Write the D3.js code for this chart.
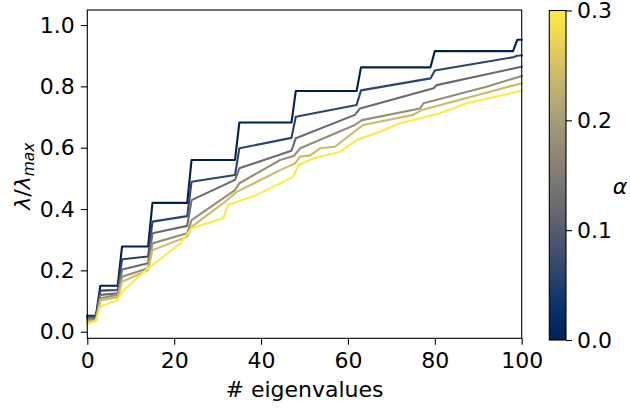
<!DOCTYPE html>
<html><head><meta charset="utf-8">
<script src="https://cdn.jsdelivr.net/npm/d3@7"></script>
<style>body{margin:0;background:#fff}text{font-family:"DejaVu Sans",sans-serif}</style>
</head><body><svg id="c" width="630" height="409"></svg>
<script>
// alpha values of each curve
const alphas = [0, 0.06, 0.12, 0.18, 0.24, 0.3];
// [eigenvalue index, lambda/lambda_max]
const seriesA0 = [[0,0.052],[2,0.052],[3,0.150],[7,0.150],[8,0.278],[14,0.278],[15,0.420],[23,0.420],[24,0.560],[34,0.560],[35,0.682],[47,0.682],[48,0.785],[62,0.785],[63,0.862],[79,0.862],[80,0.915],[98,0.915],[99,0.952],[100,0.952]];
const seriesA1 = [[0,0.049],[2,0.050],[3,0.134],[7,0.136],[8,0.236],[14,0.245],[15,0.359],[23,0.377],[24,0.489],[34,0.511],[35,0.598],[47,0.632],[48,0.701],[62,0.739],[63,0.787],[79,0.826],[80,0.852],[98,0.895],[99,0.900],[100,0.901]];
const seriesA2 = [[0,0.043],[2,0.045],[3,0.120],[7,0.125],[8,0.203],[14,0.223],[15,0.321],[23,0.345],[24,0.429],[34,0.495],[35,0.533],[47,0.590],[48,0.631],[61.6,0.707],[62.8,0.728],[79.7,0.794],[80.4,0.804],[100,0.864]];
const seriesA3 = [[0,0.038],[2,0.040],[3,0.109],[7,0.120],[8,0.179],[14,0.207],[15,0.288],[23,0.321],[24,0.364],[34,0.462],[35,0.484],[44.4,0.560],[47.5,0.573],[49,0.598],[61.6,0.674],[63.2,0.690],[76.6,0.728],[77.4,0.745],[91.9,0.799],[100,0.834]];
const seriesA4 = [[0,0.033],[2,0.036],[3,0.103],[7,0.112],[8,0.163],[14,0.201],[15,0.266],[23,0.310],[24,0.342],[31.3,0.419],[34.4,0.456],[44.4,0.527],[47.8,0.549],[49,0.571],[51.3,0.575],[53.6,0.598],[57,0.603],[62,0.658],[63.5,0.674],[75,0.707],[77,0.723],[100,0.810]];
const seriesA5 = [[0,0.025],[2,0.036],[3,0.082],[7,0.103],[8,0.130],[14,0.207],[15,0.217],[21.3,0.286],[24,0.337],[31.3,0.370],[32.4,0.413],[39,0.446],[47.4,0.505],[48.6,0.543],[52,0.565],[58.2,0.587],[62,0.625],[67.4,0.652],[72,0.680],[81.2,0.712],[87.3,0.745],[100,0.786]];
const allSeries = [seriesA0, seriesA1, seriesA2, seriesA3, seriesA4, seriesA5];
const xTicks = [0, 20, 40, 60, 80, 100];
const yTicks = [0.0, 0.2, 0.4, 0.6, 0.8, 1.0];
const cTicks = [0.0, 0.1, 0.2, 0.3];

const svg = d3.select("#c");
const L = 87.3, R = 521.7, T = 10, B = 338.3;
const x = d3.scaleLinear().domain([0, 100]).range([L, R]);
const y = d3.scaleLinear().domain([-0.0215, 1.049]).range([B, T]);
const cmap = d3.scaleSequential(d3.interpolateCividis).domain([0, 0.3]);

const line = d3.line().x(d => x(d[0])).y(d => y(d[1]));
svg.append("g").selectAll("path").data(allSeries).join("path")
  .attr("d", line).attr("fill", "none")
  .attr("stroke", (d, i) => cmap(alphas[i]))
  .attr("stroke-width", 2.1).attr("stroke-linejoin", "round").attr("stroke-linecap", "square");

// frame
svg.append("rect").attr("x", L).attr("y", T).attr("width", R - L).attr("height", B - T)
  .attr("fill", "none").attr("stroke", "#000").attr("stroke-width", 1.1);

const fs = 22;
const xa = svg.append("g").attr("transform", `translate(0,${B})`)
  .call(d3.axisBottom(x).tickValues(xTicks).tickSize(6.5).tickPadding(8).tickFormat(d3.format("d")));
const ya = svg.append("g").attr("transform", `translate(${L},0)`)
  .call(d3.axisLeft(y).tickValues(yTicks).tickSize(6.5).tickPadding(6).tickFormat(d3.format(".1f")));
[xa, ya].forEach(g => {
  g.select(".domain").remove();
  g.selectAll("line").attr("stroke", "#000").attr("stroke-width", 1.1);
  g.selectAll("text").attr("font-size", fs).attr("fill", "#000").attr("font-family", "DejaVu Sans");
});

svg.append("text").attr("x", (L + R) / 2).attr("y", 396.5).attr("text-anchor", "middle")
  .attr("font-size", fs).text("# eigenvalues");

const yl = svg.append("text").attr("transform", `translate(30,${(T + B) / 2 + 2}) rotate(-90)`)
  .attr("text-anchor", "middle").attr("font-size", fs);
yl.append("tspan").attr("font-style", "italic").text("λ");
yl.append("tspan").text("/");
yl.append("tspan").attr("font-style", "italic").text("λ");
yl.append("tspan").attr("font-style", "italic").attr("font-size", 15.5).attr("dy", 4).text("max");

// colorbar
const cbL = 549.3, cbR = 566, cbT = 10.5, cbB = 340;
const cy = d3.scaleLinear().domain([0, 0.3]).range([cbB, cbT]);
const defs = svg.append("defs");
const grad = defs.append("linearGradient").attr("id", "g").attr("x1", 0).attr("y1", 1).attr("x2", 0).attr("y2", 0);
d3.range(0, 1.0001, 0.05).forEach(t => grad.append("stop").attr("offset", t).attr("stop-color", d3.interpolateCividis(t)));
svg.append("rect").attr("x", cbL).attr("y", cbT).attr("width", cbR - cbL).attr("height", cbB - cbT)
  .attr("fill", "url(#g)").attr("stroke", "#000").attr("stroke-width", 1.1);
const ca = svg.append("g").attr("transform", `translate(${cbR},0)`)
  .call(d3.axisRight(cy).tickValues(cTicks).tickSize(6).tickPadding(5).tickFormat(d3.format(".1f")));
ca.select(".domain").remove();
ca.selectAll("line").attr("stroke", "#000").attr("stroke-width", 1.1);
ca.selectAll("text").attr("font-size", fs).attr("fill", "#000").attr("font-family", "DejaVu Sans");

svg.append("text").attr("x", 620).attr("y", 188).attr("text-anchor", "middle").attr("dominant-baseline", "middle")
  .attr("font-size", fs).attr("font-style", "italic").text("α");
</script></body></html>
